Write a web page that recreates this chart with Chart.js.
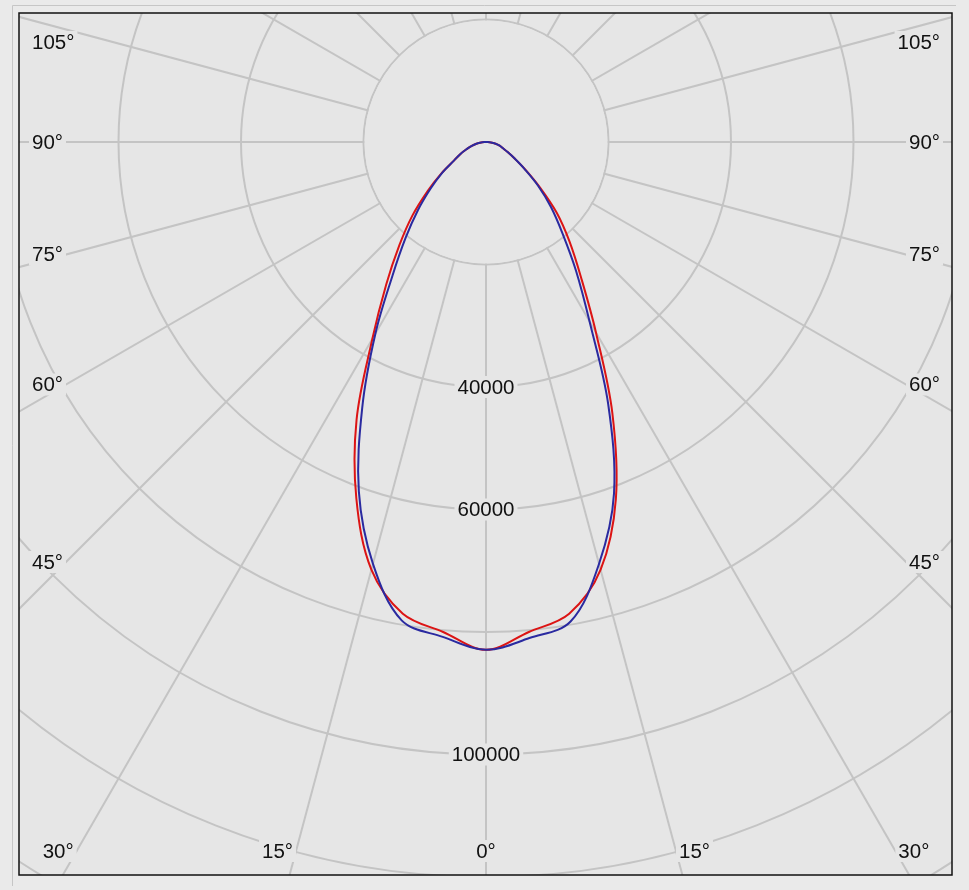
<!DOCTYPE html>
<html>
<head>
<meta charset="utf-8">
<script src="https://cdn.jsdelivr.net/npm/chart.js@4.4.1/dist/chart.umd.min.js"></script>
<style>
  html, body { margin: 0; padding: 0; background: #eaeaea; }
  #wrap { width: 969px; height: 890px; }
</style>
</head>
<body>
<div id="wrap"><canvas id="polarChart"></canvas></div>
<script>
// gamma angles (deg), 0 = straight down, 180 = straight up
const gammaAngles = [0, 5, 10, 15, 20, 25, 30, 35, 40, 45, 50, 55, 60, 65, 70, 75, 80, 85, 90,
                     95, 100, 105, 110, 115, 120, 125, 130, 135, 140, 145, 150, 155, 160, 165, 170, 175, 180];

// luminous intensity (cd), left half of the diagram
const redLeft  = [82900, 80300, 78200, 72300, 61900, 50000, 37100, 28400, 22000, 17000, 12400, 8800, 6000, 4600, 3300, 2400, 1600, 800, 0,
                  0, 0, 0, 0, 0, 0, 0, 0, 0, 0, 0, 0, 0, 0, 0, 0, 0, 0];
const blueLeft = [82900, 81100, 79300, 71300, 60700, 47800, 36100, 26600, 20400, 15700, 11800, 8700, 6000, 4600, 3300, 2400, 1600, 800, 0,
                  0, 0, 0, 0, 0, 0, 0, 0, 0, 0, 0, 0, 0, 0, 0, 0, 0, 0];
// right half of the diagram
const redRight  = [82900, 80300, 78200, 72300, 62000, 48800, 35900, 27100, 21200, 16300, 11400, 7800, 5400, 3900, 2900, 2300, 1600, 800, 0,
                   0, 0, 0, 0, 0, 0, 0, 0, 0, 0, 0, 0, 0, 0, 0, 0, 0, 0];
const blueRight = [82900, 81300, 79500, 71300, 61100, 47200, 33800, 25600, 19400, 15000, 11100, 7700, 5400, 3900, 2900, 2300, 1600, 800, 0,
                   0, 0, 0, 0, 0, 0, 0, 0, 0, 0, 0, 0, 0, 0, 0, 0, 0, 0];

const radialMax = 160000;
const radialStep = 20000;
const radialTickLabels = [40000, 60000, 100000];
const angleTickLabels = [0, 15, 30, 45, 60, 75, 90, 105];

// layout
const frame = { left: 19, top: 13, right: 952, bottom: 875 };
const center = { x: 486, y: 142 };
const pxPerStep = 122.5;
const bgColor = '#e6e6e6';
const gridColor = '#c4c4c4';
const font = '20.5px "Liberation Sans", Arial, sans-serif';

// radar goes clockwise from the bottom: left half 0..180, then right half 175..5
function wrap(left, right) {
    return left.concat(right.slice(1, -1).reverse());
}
const labels = wrap(gammaAngles, gammaAngles).map(g => g + '°');

function drawBoxText(ctx, text, x, y, align) {
    ctx.font = font;
    const w = ctx.measureText(text).width;
    let x0 = x;
    if (align === 'center') x0 = x - w / 2;
    if (align === 'right') x0 = x - w;
    ctx.fillStyle = bgColor;
    ctx.fillRect(x0 - 3, y - 11, w + 6, 22);
    ctx.fillStyle = '#111';
    ctx.textAlign = 'left';
    ctx.textBaseline = 'middle';
    ctx.fillText(text, x0, y + 1);
}

function angleLabelPos(scale, deg, side) {
    const a = deg * Math.PI / 180;
    const sx = Math.sin(a), cy = Math.cos(a);
    const rowY = 851;
    const colDist = scale.xCenter - (frame.left + 47);
    if (deg === 0) return { x: scale.xCenter, y: rowY, align: 'center' };
    const tCol = colDist / sx;
    const tRow = cy > 1e-6 ? (rowY - scale.yCenter) / cy : Infinity;
    if (tRow < tCol) {
        const px = scale.xCenter + side * sx * tRow;
        return { x: px + side * 3, y: rowY, align: side < 0 ? 'right' : 'left' };
    }
    const y = Math.max(scale.yCenter + cy * tCol, frame.top + 29);
    return { x: side < 0 ? frame.left + 13 : frame.right - 12, y: y, align: side < 0 ? 'left' : 'right' };
}

const polarPlugin = {
    id: 'polarFrame',
    beforeDraw(chart) {
        const ctx = chart.ctx;
        ctx.save();
        ctx.fillStyle = '#eaeaea';
        ctx.fillRect(0, 0, chart.width, chart.height);
        ctx.strokeStyle = '#c6c6c6';
        ctx.lineWidth = 1;
        ctx.beginPath();
        ctx.moveTo(12.5, 886);
        ctx.lineTo(12.5, 5.5);
        ctx.lineTo(956, 5.5);
        ctx.stroke();
        ctx.fillStyle = bgColor;
        ctx.fillRect(frame.left, frame.top, frame.right - frame.left, frame.bottom - frame.top);
        ctx.restore();
        ctx.save();
        ctx.beginPath();
        ctx.rect(frame.left, frame.top, frame.right - frame.left, frame.bottom - frame.top);
        ctx.clip();
    },
    beforeDatasetsDraw(chart) {
        const ctx = chart.ctx;
        const scale = chart.scales.r;
        // empty hub inside the first circle
        const hub = scale.getDistanceFromCenterForValue(radialStep) - 1;
        ctx.save();
        ctx.fillStyle = bgColor;
        ctx.beginPath();
        ctx.arc(scale.xCenter, scale.yCenter, hub, 0, Math.PI * 2);
        ctx.fill();
        // intensity labels along 0°
        radialTickLabels.forEach(v => {
            const d = scale.getDistanceFromCenterForValue(v);
            drawBoxText(ctx, String(v), scale.xCenter, scale.yCenter + d, 'center');
        });
        // angle labels along the frame
        angleTickLabels.forEach(deg => {
            const sides = deg === 0 ? [1] : [-1, 1];
            sides.forEach(s => {
                const p = angleLabelPos(scale, deg, s);
                drawBoxText(ctx, deg + '°', p.x, p.y, p.align);
            });
        });
        ctx.restore();
    },
    afterDatasetsDraw(chart) {
        const ctx = chart.ctx;
        ctx.restore();
        ctx.save();
        ctx.strokeStyle = '#111';
        ctx.lineWidth = 1.5;
        ctx.strokeRect(frame.left, frame.top, frame.right - frame.left, frame.bottom - frame.top);
        ctx.restore();
    }
};

new Chart(document.getElementById('polarChart'), {
    type: 'radar',
    data: {
        labels: labels,
        datasets: [
            {
                label: 'C0 - C180',
                data: wrap(redLeft, redRight),
                borderColor: '#dc1414',
                backgroundColor: 'transparent',
                borderWidth: 2,
                pointRadius: 0,
                tension: 0.35,
                order: 1
            },
            {
                label: 'C90 - C270',
                data: wrap(blueLeft, blueRight),
                borderColor: '#2a2aa0',
                backgroundColor: 'transparent',
                borderWidth: 2,
                pointRadius: 0,
                tension: 0.35,
                order: 0
            }
        ]
    },
    options: {
        responsive: true,
        maintainAspectRatio: false,
        animation: false,
        plugins: {
            legend: { display: false },
            tooltip: { enabled: false }
        },
        scales: {
            r: {
                min: 0,
                max: radialMax,
                startAngle: 180,
                ticks: { stepSize: radialStep, display: false },
                grid: { color: gridColor, lineWidth: 2, circular: true },
                angleLines: {
                    display: true,
                    color: gridColor,
                    lineWidth: ctx => (ctx.index % 3 === 0 ? 2 : 0)
                },
                pointLabels: { display: false },
                afterFit: scale => {
                    scale.xCenter = center.x;
                    scale.yCenter = center.y;
                    scale.drawingArea = pxPerStep * radialMax / radialStep;
                }
            }
        }
    },
    plugins: [polarPlugin]
});
</script>
</body>
</html>
